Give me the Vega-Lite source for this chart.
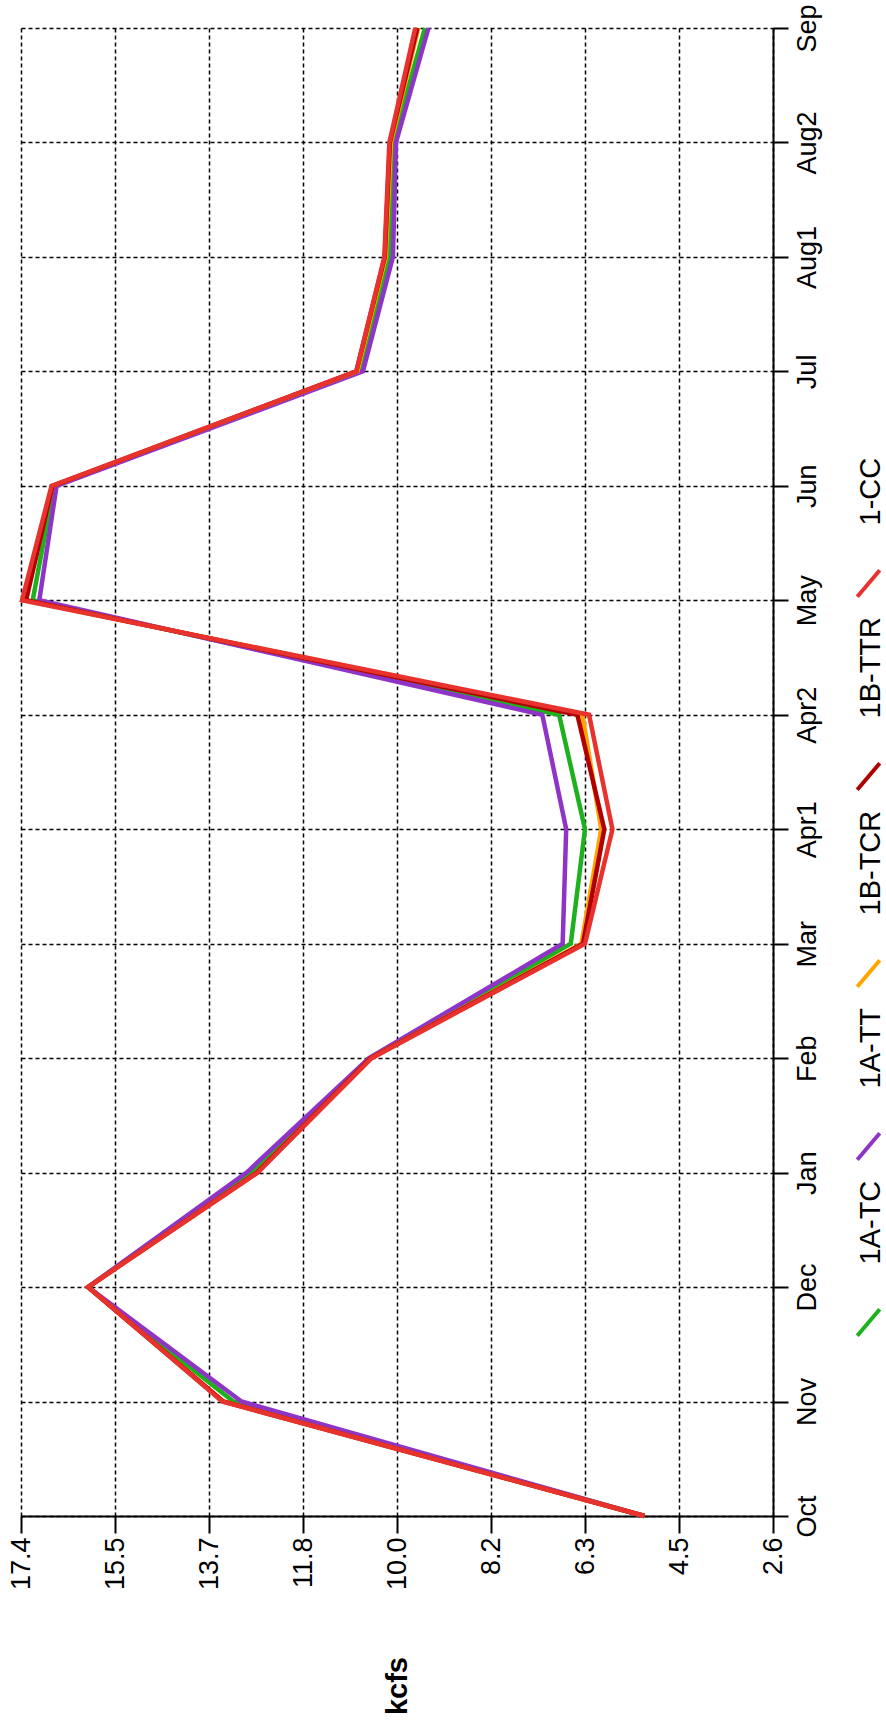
{
  "$schema": "https://vega.github.io/schema/vega-lite/v6.json",
  "width": 752,
  "height": 1488,
  "autosize": {"type": "none"},
  "padding": {"left": 21, "top": 28, "right": 113, "bottom": 211},
  "background": "white",
  "config": {"view": {"stroke": null}, "font": "Liberation Sans"},
  "data": {"values": [
    {"month":"Oct","series":"1A-TC","kcfs":5.13},{"month":"Nov","series":"1A-TC","kcfs":13.22},{"month":"Dec","series":"1A-TC","kcfs":16.08},{"month":"Jan","series":"1A-TC","kcfs":12.88},{"month":"Feb","series":"1A-TC","kcfs":10.52},{"month":"Mar","series":"1A-TC","kcfs":6.58},{"month":"Apr1","series":"1A-TC","kcfs":6.30},{"month":"Apr2","series":"1A-TC","kcfs":6.81},{"month":"May","series":"1A-TC","kcfs":17.17},{"month":"Jun","series":"1A-TC","kcfs":16.75},{"month":"Jul","series":"1A-TC","kcfs":10.73},{"month":"Aug1","series":"1A-TC","kcfs":10.15},{"month":"Aug2","series":"1A-TC","kcfs":10.08},{"month":"Sep","series":"1A-TC","kcfs":9.45},
    {"month":"Oct","series":"1A-TT","kcfs":5.13},{"month":"Nov","series":"1A-TT","kcfs":13.06},{"month":"Dec","series":"1A-TT","kcfs":16.08},{"month":"Jan","series":"1A-TT","kcfs":12.96},{"month":"Feb","series":"1A-TT","kcfs":10.55},{"month":"Mar","series":"1A-TT","kcfs":6.74},{"month":"Apr1","series":"1A-TT","kcfs":6.67},{"month":"Apr2","series":"1A-TT","kcfs":7.14},{"month":"May","series":"1A-TT","kcfs":17.04},{"month":"Jun","series":"1A-TT","kcfs":16.70},{"month":"Jul","series":"1A-TT","kcfs":10.67},{"month":"Aug1","series":"1A-TT","kcfs":10.08},{"month":"Aug2","series":"1A-TT","kcfs":10.02},{"month":"Sep","series":"1A-TT","kcfs":9.38},
    {"month":"Oct","series":"1B-TCR","kcfs":5.13},{"month":"Nov","series":"1B-TCR","kcfs":13.42},{"month":"Dec","series":"1B-TCR","kcfs":16.08},{"month":"Jan","series":"1B-TCR","kcfs":12.76},{"month":"Feb","series":"1B-TCR","kcfs":10.52},{"month":"Mar","series":"1B-TCR","kcfs":6.37},{"month":"Apr1","series":"1B-TCR","kcfs":5.98},{"month":"Apr2","series":"1B-TCR","kcfs":6.35},{"month":"May","series":"1B-TCR","kcfs":17.33},{"month":"Jun","series":"1B-TCR","kcfs":16.78},{"month":"Jul","series":"1B-TCR","kcfs":10.78},{"month":"Aug1","series":"1B-TCR","kcfs":10.22},{"month":"Aug2","series":"1B-TCR","kcfs":10.12},{"month":"Sep","series":"1B-TCR","kcfs":9.58},
    {"month":"Oct","series":"1B-TTR","kcfs":5.13},{"month":"Nov","series":"1B-TTR","kcfs":13.42},{"month":"Dec","series":"1B-TTR","kcfs":16.08},{"month":"Jan","series":"1B-TTR","kcfs":12.76},{"month":"Feb","series":"1B-TTR","kcfs":10.52},{"month":"Mar","series":"1B-TTR","kcfs":6.34},{"month":"Apr1","series":"1B-TTR","kcfs":5.92},{"month":"Apr2","series":"1B-TTR","kcfs":6.45},{"month":"May","series":"1B-TTR","kcfs":17.30},{"month":"Jun","series":"1B-TTR","kcfs":16.78},{"month":"Jul","series":"1B-TTR","kcfs":10.80},{"month":"Aug1","series":"1B-TTR","kcfs":10.24},{"month":"Aug2","series":"1B-TTR","kcfs":10.14},{"month":"Sep","series":"1B-TTR","kcfs":9.60},
    {"month":"Oct","series":"1-CC","kcfs":5.13},{"month":"Nov","series":"1-CC","kcfs":13.44},{"month":"Dec","series":"1-CC","kcfs":16.08},{"month":"Jan","series":"1-CC","kcfs":12.74},{"month":"Feb","series":"1-CC","kcfs":10.50},{"month":"Mar","series":"1-CC","kcfs":6.30},{"month":"Apr1","series":"1-CC","kcfs":5.76},{"month":"Apr2","series":"1-CC","kcfs":6.22},{"month":"May","series":"1-CC","kcfs":17.38},{"month":"Jun","series":"1-CC","kcfs":16.80},{"month":"Jul","series":"1-CC","kcfs":10.80},{"month":"Aug1","series":"1-CC","kcfs":10.25},{"month":"Aug2","series":"1-CC","kcfs":10.15},{"month":"Sep","series":"1-CC","kcfs":9.64}
  ]},
  "mark": {"type": "line", "strokeWidth": 4.5, "strokeJoin": "miter"},
  "encoding": {
    "x": {
      "field": "kcfs", "type": "quantitative",
      "scale": {"domain": [2.6, 17.4], "reverse": true, "nice": false, "zero": false},
      "axis": {
        "orient": "bottom",
        "values": [17.4, 15.55, 13.7, 11.85, 10, 8.15, 6.3, 4.45, 2.6],
        "labelExpr": "abs(datum.value - 15.55) < 0.01 ? '15.5' : format(datum.value, '.1f')",
        "labelAngle": -90, "labelAlign": "right", "labelBaseline": "middle",
        "labelFontSize": 27, "labelColor": "black", "labelPadding": 4,
        "labelFlush": false, "labelOverlap": false,
        "tickSize": 17, "tickColor": "black", "tickWidth": 2,
        "domainColor": "black", "domainWidth": 2,
        "grid": true, "gridColor": "black", "gridDash": [4, 3], "gridWidth": 1.5, "gridOpacity": 1,
        "title": "kcfs", "titleFontSize": 29, "titleFontWeight": "bold", "titleColor": "black",
        "titleAngle": -90, "titleAlign": "right", "titleBaseline": "middle", "titlePadding": 67
      }
    },
    "y": {
      "field": "month", "type": "ordinal",
      "sort": ["Sep", "Aug2", "Aug1", "Jul", "Jun", "May", "Apr2", "Apr1", "Mar", "Feb", "Jan", "Dec", "Nov", "Oct"],
      "scale": {"type": "point", "padding": 0},
      "axis": {
        "orient": "right", "title": null,
        "labelAngle": -90, "labelAlign": "center", "labelBaseline": "top",
        "labelFontSize": 27, "labelColor": "black", "labelPadding": 6, "labelOverlap": false,
        "tickSize": 15, "tickColor": "black", "tickWidth": 2,
        "domainColor": "black", "domainWidth": 2,
        "grid": true, "gridColor": "black", "gridDash": [4, 3], "gridWidth": 1.5, "gridOpacity": 1
      }
    },
    "color": {
      "field": "series", "type": "nominal",
      "scale": {
        "domain": ["1A-TC", "1A-TT", "1B-TCR", "1B-TTR", "1-CC"],
        "range": ["#1DB11D", "#8E34C6", "#FFA500", "#B00000", "#E8322E"]
      },
      "legend": {
        "orient": "none", "legendX": 832, "legendY": 540,
        "direction": "vertical", "title": null,
        "values": ["1-CC", "1B-TTR", "1B-TCR", "1A-TT", "1A-TC"],
        "symbolType": "M-0.85,1L0.85,-1", "symbolSize": 700, "symbolStrokeWidth": 4,
        "labelFontSize": 29, "labelColor": "black", "labelOffset": -13,
        "rowPadding": 12, "padding": 0, "labelLimit": 400,
        "encode": {"labels": {"update": {"angle": {"value": -90}, "dx": {"value": 58}}}}
      }
    }
  }
}
